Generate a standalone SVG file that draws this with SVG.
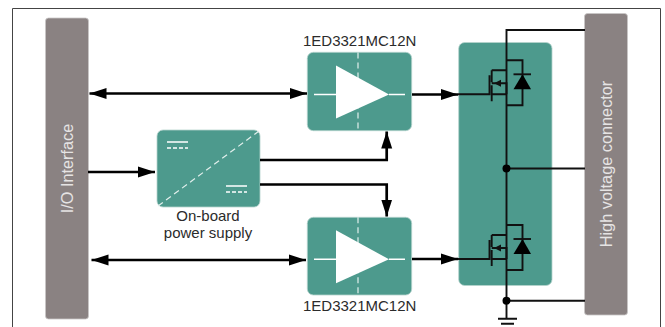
<svg xmlns="http://www.w3.org/2000/svg" width="665" height="327" viewBox="0 0 665 327">
<style>
.bar{fill:#8a8282;stroke:#c9c6c6;stroke-width:.8}
.teal{fill:#4d9a8d;stroke:#b5d3cd;stroke-width:.8}
.w{stroke:#fff;stroke-width:1.5;fill:none}
.wd{stroke:#e3f0ed;stroke-width:1.2;fill:none;stroke-dasharray:6 4}
.wds{stroke:#fff;stroke-width:1.5;fill:none;stroke-dasharray:4 2}
.c{stroke:#000;stroke-width:2.700;fill:none}
.a{marker-end:url(#h)}
.b{marker-start:url(#hs);marker-end:url(#h)}
.m{stroke:#111;stroke-width:1.900;fill:none}
text{font-family:"Liberation Sans",Arial,sans-serif;font-size:15px;fill:#2b2b2b}
.v{font-size:16.3px;fill:#e6e4e4;text-anchor:middle}
.l{text-anchor:middle}
</style>
<defs>
<marker id="h" markerUnits="userSpaceOnUse" markerWidth="18" markerHeight="12" refX="17" refY="6" orient="auto"><path d="M0 .5L17 6L0 11.500Z" fill="#000"/></marker>
<marker id="hs" markerUnits="userSpaceOnUse" markerWidth="18" markerHeight="12" refX="1" refY="6" orient="auto"><path d="M18 .5L1 6L18 11.500Z" fill="#000"/></marker>
<g id="fet">
<path class="m" d="M458 0H489.500V-19M491.700 -24V-12M491.700 -9V3M491.700 -3V7M491.700 -24H506.500M491.700 0H506.500M491.700 -11H506.500V0"/>
<path d="M494 -11L501 -14.500V-7.500Z" fill="#111"/>
<path class="m" d="M506.500 -34H522.500V11H506.500"/>
<path d="M522.500 -20L531 -5H513.500Z" fill="#000"/>
<path class="m" d="M513.500 -20H531"/>
</g>
<g id="drv">
<path class="wd" d="M358 0V78"/>
<path d="M336 13V66L389 42Z" fill="#fff"/>
<path class="w" d="M314 42H336M389 42H405"/>
</g>
</defs>
<rect width="665" height="327" fill="#fff"/>
<path d="M12.500 327V8.500H660.500V327" fill="none" stroke="#444" stroke-width="1"/>
<g id="panel"><rect class="teal" x="458.700" y="42.500" width="93.300" height="243" rx="6"/></g>
<g id="io"><rect class="bar" x="45.500" y="18" width="43" height="301" rx="3"/><text class="v" transform="translate(72.500 168.500) rotate(-90)">I/O Interface</text></g>
<g id="hv"><rect class="bar" x="584.500" y="13.500" width="43" height="301.500" rx="3"/><text class="v" transform="translate(611.700 164) rotate(-90)">High voltage connector</text></g>
<g id="psu"><rect class="teal" x="157" y="130" width="103" height="77" rx="6"/>
<path class="wd" d="M158 206L259 131"/>
<path class="w" d="M167 142H188M226 186H247"/><path class="wds" d="M167 148H188M226 192H247"/>
<text class="l" x="208" y="221">On-board</text><text class="l" x="208" y="238">power supply</text></g>
<g id="driver1"><rect class="teal" x="307.300" y="52.300" width="104.400" height="78.400" rx="6"/><use href="#drv" y="52.500"/>
<text class="l" x="359.700" y="46">1ED3321MC12N</text></g>
<g id="driver2"><rect class="teal" x="307.300" y="217.300" width="104.400" height="77.700" rx="6"/><use href="#drv" y="217.300"/>
<text class="l" x="359.700" y="310.700">1ED3321MC12N</text></g>
<g id="connectors">
<path class="c b" d="M89.500 93.500H307"/>
<path class="c b" d="M91.500 260H306"/>
<path class="c a" d="M88 172H155"/>
<path class="c a" d="M260 160H386.700V131.500"/>
<path class="c a" d="M260 184.500H386.700V216.500"/>
<path class="c a" d="M412 94.500H458"/>
<path class="c a" d="M412 259H458"/>
<use href="#fet" y="94.300"/>
<use href="#fet" y="259"/>
<path class="m" d="M585 30H506.500V318M506.500 168.500H585M506.500 300.700H585"/>
<path class="m" d="M498 318.700H517M501 323.700H514"/>
<circle cx="506.500" cy="168.500" r="4" fill="#000"/>
<circle cx="506.500" cy="300.700" r="4" fill="#000"/>
</g>
</svg>
